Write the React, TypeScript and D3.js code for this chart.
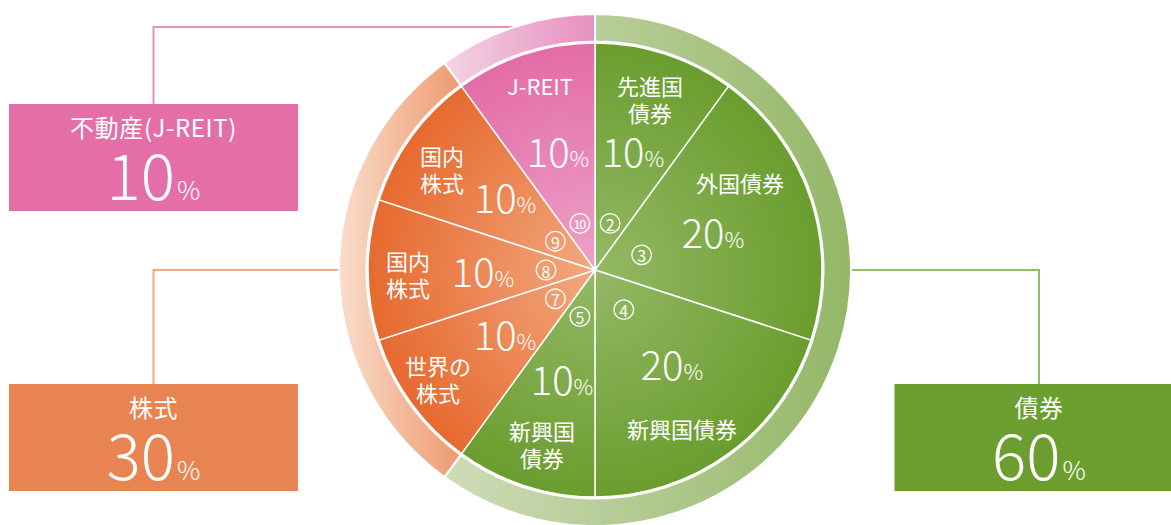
import React from "react";
import * as d3 from "d3";

// ---- data ----
const sliceNames: string[][] = [
  ["先進国", "債券"],
  ["外国債券"],
  ["新興国債券"],
  ["新興国", "債券"],
  ["世界の", "株式"],
  ["国内", "株式"],
  ["国内", "株式"],
  ["J-REIT"],
];
const sliceValues: number[] = [10, 20, 20, 10, 10, 10, 10, 10];
const sliceGroups: string[] = ["bond", "bond", "bond", "bond", "stock", "stock", "stock", "reit"];
const sliceMarks: string[] = ["2", "3", "4", "5", "7", "8", "9", "10"];

const groupKeys: string[] = ["bond", "stock", "reit"];
const groupNames: string[] = ["債券", "株式", "不動産(J-REIT)"];
const groupValues: number[] = [60, 30, 10];

// ---- layout / style ----
const W = 1171;
const H = 525;
const cx = 595;
const cy = 270;
const rPie = 227;
const rRingIn = 228.5;
const rRingOut = 256;

const colors: Record<string, { box: string; dark: string; light: string; ringL: string; ringD: string; line: string }> = {
  bond: { box: "#6b9e2f", dark: "#6a9d2e", light: "#94b966", ringL: "#cfdcb8", ringD: "#93b767", line: "#96bb66" },
  stock: { box: "#e88452", dark: "#e66a2f", light: "#f2a87f", ringL: "#f9ddcc", ringD: "#ee9a6e", line: "#f0aa86" },
  reit: { box: "#e46fa8", dark: "#e46ca7", light: "#eca2c8", ringL: "#f4d3e4", ringD: "#e68fbf", line: "#e98fbf" },
};

// text placement relative to pie centre (per slice)
const nameLayout: [number, number][] = [
  [55, -185], [145, -88], [87, 158], [-53, 160], [-157, 95], [-187, -10], [-153, -115], [-55, -185],
];
const pctLayout: [number, number][] = [
  [38, -103], [118, -22], [77, 110], [-33, 125], [-90, 80], [-112, 17], [-90, -57], [-37, -103],
];
const boxLayout: Record<string, { x: number; y: number; lineY: number }> = {
  bond: { x: 1039, y: 384, lineY: 270 },
  stock: { x: 153.5, y: 384, lineY: 270 },
  reit: { x: 153.5, y: 104, lineY: 27 },
};
const boxW = 289;
const boxH = 107;
const lineH = 27;

const FONT = "'Noto Sans CJK JP', 'Noto Sans', sans-serif";

export default function App() {
  const pie = d3.pie<number>().sort(null).value((d) => d);
  const arcs = pie(sliceValues);
  const ringArcs = pie(groupValues);
  const arcPie = d3.arc<d3.PieArcDatum<number>>().innerRadius(0).outerRadius(rPie);
  const arcRing = d3.arc<d3.PieArcDatum<number>>().innerRadius(rRingIn).outerRadius(rRingOut);
  const markR = 49;

  return (
    <svg width={W} height={H} style={{ position: "absolute", left: 0, top: 0, display: "block" }} fontFamily={FONT}>
      <defs>
        {groupKeys.map((k) => (
          <radialGradient key={"rg" + k} id={"pie-" + k} gradientUnits="userSpaceOnUse" cx={0} cy={0} r={rPie}>
            <stop offset="0" stopColor={colors[k].light} />
            <stop offset="1" stopColor={colors[k].dark} />
          </radialGradient>
        ))}
        {groupKeys.map((k) => (
          <linearGradient key={"lg" + k} id={"ring-" + k} x1="0" x2="1" y1="0" y2="0">
            <stop offset="0" stopColor={colors[k].ringL} />
            <stop offset="1" stopColor={colors[k].ringD} />
          </linearGradient>
        ))}
      </defs>

      {/* leader lines */}
      {groupKeys.map((k) => {
        const b = boxLayout[k];
        const dy = b.lineY - cy;
        const dx = Math.sqrt(Math.max(0, rRingOut * rRingOut - dy * dy)) - 1;
        const ex = b.x < cx ? cx - dx : cx + dx;
        return (
          <polyline
            key={"ln" + k}
            points={`${b.x},${b.y} ${b.x},${b.lineY} ${ex},${b.lineY}`}
            fill="none"
            stroke={colors[k].line}
            strokeWidth={2}
          />
        );
      })}

      {/* boxes */}
      {groupKeys.map((k, i) => {
        const b = boxLayout[k];
        return (
          <g key={"box" + k}>
            <rect x={b.x - boxW / 2} y={b.y} width={boxW} height={boxH} fill={colors[k].box} />
            <text x={b.x} y={b.y + 33} textAnchor="middle" fill="#fff" fontSize={24} letterSpacing={0.6}>
              {groupNames[i]}
            </text>
            <text x={b.x} y={b.y + 96} textAnchor="middle" fill="#fff" fontWeight={300}>
              <tspan fontSize={64}>{groupValues[i]}</tspan>
              <tspan fontSize={26} dx={2}>%</tspan>
            </text>
          </g>
        );
      })}

      <g transform={`translate(${cx},${cy})`}>
        {/* outer ring */}
        {ringArcs.map((a, i) => (
          <path key={"ring" + i} d={arcRing(a) || ""} fill={`url(#ring-${groupKeys[i]})`} stroke="#fff" strokeWidth={2} />
        ))}
        {/* pie slices */}
        {arcs.map((a, i) => (
          <path key={"s" + i} d={arcPie(a) || ""} fill={`url(#pie-${sliceGroups[i]})`} stroke="#fff" strokeWidth={1.5} strokeLinejoin="round" />
        ))}
        {/* circled numbers */}
        {arcs.map((a, i) => {
          const ang = (a.startAngle + a.endAngle) / 2;
          const x = Math.sin(ang) * markR;
          const y = -Math.cos(ang) * markR;
          const two = sliceMarks[i].length > 1;
          return (
            <g key={"m" + i} transform={`translate(${x},${y})`}>
              <circle r={9.8} fill="none" stroke="#fff" strokeWidth={1.3} />
              <text
                textAnchor="middle"
                dominantBaseline="central"
                fill="#fff"
                fontSize={two ? 12.5 : 16}
                letterSpacing={two ? -1.2 : 0}
                x={two ? -0.5 : 0}
                y={0.5}
              >
                {sliceMarks[i]}
              </text>
            </g>
          );
        })}
        {/* slice names */}
        {sliceNames.map((lines, i) => (
          <text key={"n" + i} textAnchor="middle" fill="#fff" fontSize={22}>
            {lines.map((l, j) => (
              <tspan key={j} x={nameLayout[i][0]} y={nameLayout[i][1] + j * lineH} dominantBaseline="central">
                {l}
              </tspan>
            ))}
          </text>
        ))}
        {/* slice percentages */}
        {sliceValues.map((v, i) => (
          <text key={"p" + i} x={pctLayout[i][0]} y={pctLayout[i][1]} textAnchor="middle" fill="#fff" fontWeight={300}>
            <tspan fontSize={40}>{v}</tspan>
            <tspan fontSize={22}>%</tspan>
          </text>
        ))}
      </g>
    </svg>
  );
}
